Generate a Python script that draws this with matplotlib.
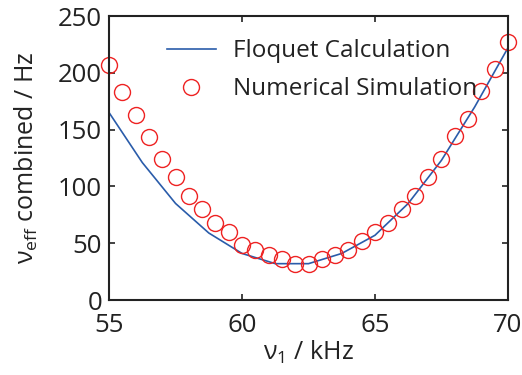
import numpy as np
import matplotlib
matplotlib.use('Agg')
import matplotlib.pyplot as plt

plt.rcParams['font.family'] = ['Open Sans', 'DejaVu Sans']
plt.rcParams['mathtext.fontset'] = 'custom'
plt.rcParams['mathtext.rm'] = 'Open Sans'

# Floquet calculation (1.25 kHz grid)
nu_floquet = [55, 56.25, 57.5, 58.75, 60, 61.25, 62.5, 63.75, 65, 66.25, 67.5, 68.75, 70]
v_floquet = [165, 121, 85, 59, 41, 32, 32, 41, 57, 85, 123, 170, 222]

# Numerical simulation (0.5 kHz grid)
nu_sim = [55, 55.5, 56, 56.5, 57, 57.5, 58, 58.5, 59, 59.5, 60, 60.5, 61, 61.5, 62,
          62.5, 63, 63.5, 64, 64.5, 65, 65.5, 66, 66.5, 67, 67.5, 68, 68.5, 69, 69.5, 70]
v_sim = [207, 183, 163, 143.5, 124, 108, 92, 80, 68, 60, 48, 44, 40, 36, 32,
         32, 36, 40, 44, 52, 60, 68, 80, 92, 108, 124, 144, 159, 184, 203, 227]

fig = plt.figure(figsize=(5.22, 3.75), dpi=100)
ax = fig.add_axes([0.209, 0.2, 0.764, 0.757])

ax.plot(nu_floquet, v_floquet, color='#2a5caa', lw=1.2, label='Floquet Calculation')
ax.plot(nu_sim, v_sim, 'o', mfc='none', mec='#ee2222', ms=11.5, mew=1.0,
        label='Numerical Simulation', clip_on=False)

ax.set_xlim(55, 70)
ax.set_ylim(0, 250)
ax.set_xticks([55, 60, 65, 70])
ax.set_yticks([0, 50, 100, 150, 200, 250])
ax.tick_params(direction='in', length=4, width=1.2, labelsize=18.5, top=True, right=True,
               colors='#222222')
ax.tick_params(axis='x', pad=9)
ax.tick_params(axis='y', pad=5)
for s in ax.spines.values():
    s.set_linewidth(1.5)
    s.set_color('#222222')

ax.set_xlabel(r'ν$_\mathregular{1}$ / kHz', fontsize=18, color='#222222', labelpad=1)
ax.set_ylabel(r'ν$_\mathregular{eff}$ combined / Hz', fontsize=18, color='#222222', labelpad=13)

ax.legend(loc='upper left', bbox_to_anchor=(0.145, 0.918), frameon=False, fontsize=17.5,
          borderpad=0, borderaxespad=0, handlelength=2.0, handletextpad=0.7,
          labelspacing=0.58, numpoints=1, labelcolor='#222222')

fig.savefig('out.png', dpi=100)
